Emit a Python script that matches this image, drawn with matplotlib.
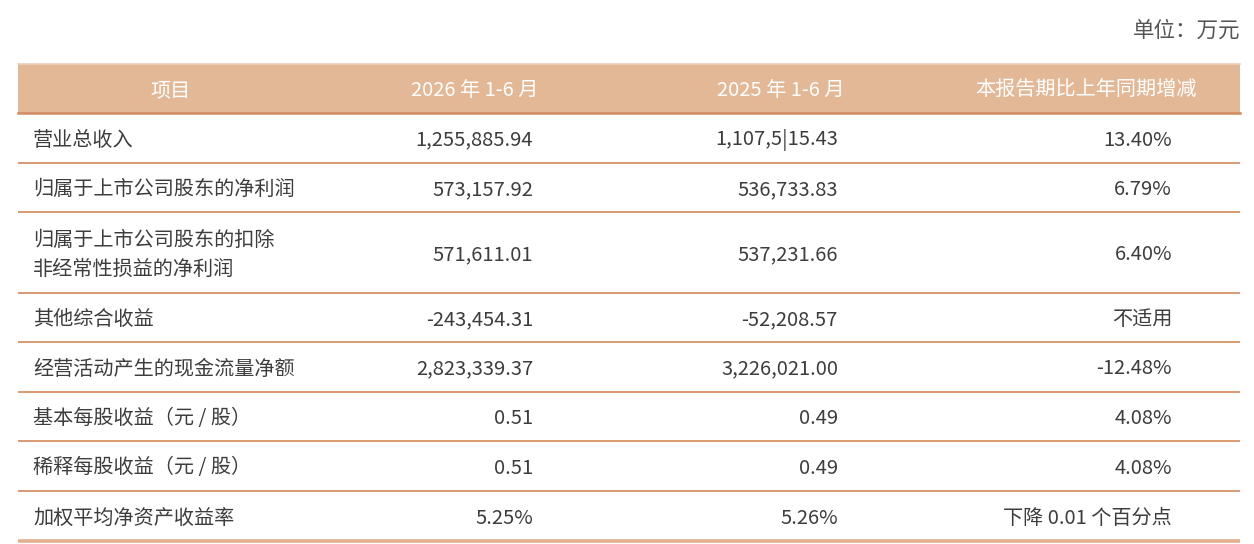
import matplotlib
matplotlib.use('Agg')
import matplotlib.pyplot as plt
from matplotlib.patches import Rectangle

plt.rcParams['font.family'] = ['Noto Sans CJK SC', 'DejaVu Sans']

# table content
headers = ['项目', '2026 年 1-6 月', '2025 年 1-6 月', '本报告期比上年同期增减']
items = ['营业总收入', '归属于上市公司股东的净利润', '归属于上市公司股东的扣除\n非经常性损益的净利润',
         '其他综合收益', '经营活动产生的现金流量净额', '基本每股收益（元 / 股）',
         '稀释每股收益（元 / 股）', '加权平均净资产收益率']
cur_period = ['1,255,885.94', '573,157.92', '571,611.01', '-243,454.31', '2,823,339.37',
              '0.51', '0.51', '5.25%']
prev_period = ['1,107,5|15.43', '536,733.83', '537,231.66', '-52,208.57', '3,226,021.00',
               '0.49', '0.49', '5.26%']
change = ['13.40%', '6.79%', '6.40%', '不适用', '-12.48%', '4.08%', '4.08%', '下降 0.01 个百分点']
unit = '单位：万元'

# layout (pixels)
W, H = 1254, 544
left, right = 18, 1240
head_top, head_h = 64, 49
row_h = [50, 49, 81, 49, 50, 49, 50, 50]
head_x = [171, 475, 781, 1086]
val_x = [33, 533, 838, 1172]
dy = 2  # cjk font sits a bit high with va='center'

fig = plt.figure(figsize=(W / 100, H / 100), dpi=100)
ax = fig.add_axes([0, 0, 1, 1])
ax.set_xlim(0, W)
ax.set_ylim(H, 0)
ax.axis('off')

text_col = '#3d3d3d'
fs = 14.5

ax.text(right, 31, unit, ha='right', va='center', fontsize=15.5, color='#555555')

# header band
ax.add_patch(Rectangle((left, head_top), right - left, head_h, facecolor='#E3B897', edgecolor='none'))
ax.plot([left, right], [head_top, head_top], color='#EDD0BA', lw=1.2)
for x, h in zip(head_x, headers):
    ax.text(x, head_top + head_h / 2 + dy, h, ha='center', va='center', fontsize=fs, color='white')

y = head_top + head_h
ax.plot([left, right], [y, y], color='#D08B5E', lw=1.8)

for i, rh in enumerate(row_h):
    yc = y + rh / 2 + dy
    ax.text(val_x[0], yc, items[i], ha='left', va='center', fontsize=fs, color=text_col,
            linespacing=1.5)
    ax.text(val_x[1], yc, cur_period[i], ha='right', va='center', fontsize=fs, color=text_col)
    ax.text(val_x[2], yc, prev_period[i], ha='right', va='center', fontsize=fs, color=text_col)
    ax.text(val_x[3], yc, change[i], ha='right', va='center', fontsize=fs, color=text_col)
    y += rh
    last = i == len(row_h) - 1
    ax.plot([left, right], [y, y], color='#E2B08F' if last else '#D99A72',
            lw=2.6 if last else 1.4, solid_capstyle='butt')

plt.savefig('out.png', dpi=100)
